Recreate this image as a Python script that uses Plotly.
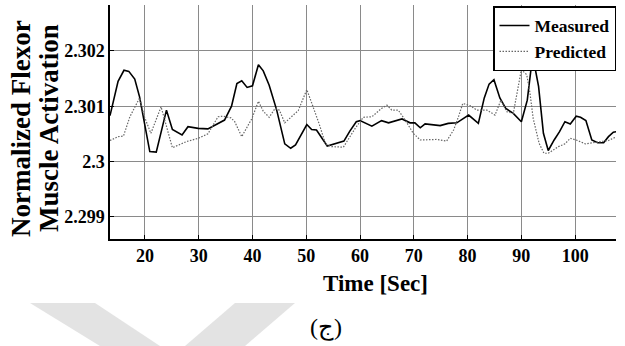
import plotly.graph_objects as go

# ---------------- data ----------------
t_measured = [13.5, 15.0, 16.1, 17.0, 18.1, 19.0, 20.9, 22.1, 24.0, 25.1, 26.9, 28.0,
              29.9, 31.7, 34.8, 36.1, 37.1, 38.0, 39.0, 40.0, 41.1, 42.0, 43.1, 44.5,
              46.0, 47.1, 48.0, 50.1, 51.0, 51.9, 53.9, 57.0, 58.1, 59.3, 60.0, 62.2,
              64.0, 65.3, 67.8, 69.3, 70.2, 71.2, 72.1, 74.9, 76.4, 78.0, 80.2, 82.0,
              83.1, 84.0, 84.9, 86.0, 87.1, 88.5, 90.0, 91.1, 92.1, 93.2, 94.1, 95.0,
              96.1, 97.1, 98.1, 99.1, 100.2, 101.0, 102.0, 103.1, 104.2, 105.3, 106.2,
              107.1, 107.7]
measured = [2.30083, 2.30145, 2.30165, 2.30163, 2.30149, 2.30117, 2.30018, 2.30017,
            2.30093, 2.30058, 2.30048, 2.30063, 2.30060, 2.30059, 2.30075, 2.30100,
            2.30141, 2.30146, 2.30134, 2.30137, 2.30175, 2.30164, 2.30138, 2.30093,
            2.30032, 2.30024, 2.30030, 2.30067, 2.30058, 2.30057, 2.30028, 2.30037,
            2.30055, 2.30072, 2.30074, 2.30064, 2.30074, 2.30070, 2.30077, 2.30070,
            2.30070, 2.30061, 2.30068, 2.30065, 2.30069, 2.30070, 2.30084, 2.30069,
            2.30115, 2.30140, 2.30148, 2.30115, 2.30096, 2.30087, 2.30072, 2.30111,
            2.30192, 2.30136, 2.30051, 2.30020, 2.30039, 2.30054, 2.30072, 2.30068,
            2.30082, 2.30080, 2.30074, 2.30039, 2.30034, 2.30034, 2.30045, 2.30053,
            2.30054]

t_predicted = [13.5, 15.0, 16.0, 17.2, 19.0, 19.9, 21.1, 23.0, 25.1, 27.7, 29.9, 31.7,
               33.6, 34.5, 36.0, 36.7, 38.0, 39.9, 41.1, 42.0, 43.1, 44.2, 45.0, 46.0,
               48.5, 50.1, 51.0, 52.4, 53.6, 54.7, 56.9, 59.1, 60.6, 62.2, 64.0, 65.0,
               65.9, 67.1, 68.4, 69.9, 71.2, 72.7, 74.3, 76.1, 77.4, 78.3, 79.1, 80.5,
               81.7, 83.6, 85.1, 86.2, 87.3, 88.5, 89.1, 90.0, 91.0, 91.6, 92.2, 93.3,
               94.2, 95.0, 96.9, 98.1, 99.1, 100.2, 101.9, 103.4, 104.7, 106.2, 107.7]
predicted = [2.30038, 2.30045, 2.30046, 2.30081, 2.30115, 2.30081, 2.30051, 2.30099,
             2.30025, 2.30036, 2.30042, 2.30050, 2.30081, 2.30082, 2.30079, 2.30072,
             2.30045, 2.30078, 2.30109, 2.30091, 2.30080, 2.30096, 2.30093, 2.30070,
             2.30092, 2.30130, 2.30106, 2.30068, 2.30031, 2.30027, 2.30026, 2.30060,
             2.30080, 2.30081, 2.30096, 2.30102, 2.30093, 2.30093, 2.30075, 2.30051,
             2.30039, 2.30040, 2.30040, 2.30037, 2.30057, 2.30081, 2.30105, 2.30101,
             2.30093, 2.30093, 2.30084, 2.30111, 2.30090, 2.30087, 2.30117, 2.30166,
             2.30157, 2.30124, 2.30078, 2.30033, 2.30015, 2.30015, 2.30027, 2.30032,
             2.30042, 2.30039, 2.30032, 2.30034, 2.30036, 2.30038, 2.30045]

x_ticks = [20, 30, 40, 50, 60, 70, 80, 90, 100]
y_ticks = [2.299, 2.3, 2.301, 2.302]
y_tick_labels = ["2.299", "2.3", "2.301", "2.302"]

# ---------------- layout helpers (pixel -> paper) ----------------
W, H = 625, 346
L, R, T, B = 110, 616, 5, 239


def px(x):
    return (x - L) / (R - L)


def py(y):
    return (B - y) / (B - T)


SERIF = "Liberation Serif"


def bold(size):
    return dict(family=SERIF, size=size, color="black", weight="bold")


fig = go.Figure()
fig.add_trace(go.Scatter(x=t_measured, y=measured, mode="lines", name="Measured",
                         line=dict(color="black", width=1.6)))
fig.add_trace(go.Scatter(x=t_predicted, y=predicted, mode="lines", name="Predicted",
                         line=dict(color="#666666", width=1.2, dash="1.5px,1.5px")))

# watermark-like grey bands at the bottom
bands = [
    [(30, 303), (95, 303), (160, 346), (100, 346)],
    [(235, 303), (295, 303), (245, 346), (185, 346)],
]
shapes = []
for poly in bands:
    path = "M " + " L ".join(f"{px(a):.4f},{py(b):.4f}" for a, b in poly) + " Z"
    shapes.append(dict(type="path", xref="paper", yref="paper", path=path,
                       fillcolor="#c8c8c8", opacity=0.5, line=dict(width=0),
                       layer="below"))

annotations = [
    dict(text="<b>Normalized Flexor</b>", x=px(21), y=py(129), xref="paper", yref="paper",
         textangle=-90, showarrow=False, xanchor="center", yanchor="middle",
         font=bold(27)),
    dict(text="<b>Muscle Activation</b>", x=px(49), y=py(128), xref="paper", yref="paper",
         textangle=-90, showarrow=False, xanchor="center", yanchor="middle",
         font=bold(27)),
    dict(text="<b>Time [Sec]</b>", x=px(375), y=py(283), xref="paper", yref="paper",
         showarrow=False, xanchor="center", yanchor="middle",
         font=bold(23)),
    dict(text="(ج)", x=px(326), y=py(327), xref="paper", yref="paper",
         showarrow=False, xanchor="center", yanchor="middle",
         font=dict(family=SERIF, size=24, color="black")),
]

fig.update_layout(
    width=W, height=H,
    margin=dict(l=L, r=W - R, t=T, b=H - B, pad=0),
    paper_bgcolor="white", plot_bgcolor="white",
    showlegend=True,
    legend=dict(x=1.0, y=0.995, xanchor="right", yanchor="top",
                bgcolor="white", bordercolor="black", borderwidth=1.5,
                font=bold(17.5),
                itemwidth=30, tracegroupgap=0),
    shapes=shapes,
    annotations=annotations,
    font=dict(family=SERIF, color="black"),
)

fig.update_xaxes(range=[13.5, 107.6], tickvals=x_ticks,
                 ticktext=[f"<b>{v}</b>" for v in x_ticks],
                 tickfont=bold(18),
                 showgrid=True, gridcolor="#8a8a8a", gridwidth=1,
                 showline=True, linecolor="black", linewidth=1.5,
                 ticks="inside", ticklen=4, tickcolor="black", zeroline=False)
fig.update_yaxes(range=[2.29860, 2.30283], tickvals=y_ticks,
                 ticktext=[f"<b>{v}</b>" for v in y_tick_labels],
                 tickfont=bold(18),
                 showgrid=True, gridcolor="#8a8a8a", gridwidth=1,
                 showline=True, linecolor="black", linewidth=1.5,
                 ticks="inside", ticklen=4, tickcolor="black", zeroline=False)

fig.write_html("out.html", config={"displayModeBar": False},
               post_script="document.body.style.margin='0';document.body.style.padding='0';")
